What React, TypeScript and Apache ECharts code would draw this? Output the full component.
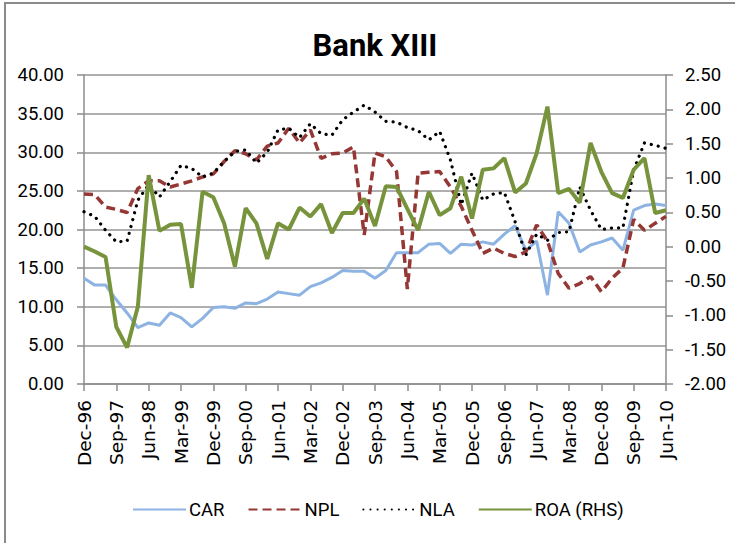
import React, { useEffect, useRef } from "react";
import * as echarts from "echarts";

const categories: string[] = (() => {
  const m = ["Mar", "Jun", "Sep", "Dec"];
  const out: string[] = ["Dec-96"];
  for (let y = 1997; y <= 2010; y++) {
    for (let q = 0; q < 4; q++) {
      if (y === 2010 && q > 1) break;
      out.push(`${m[q]}-${String(y % 100).padStart(2, "0")}`);
    }
  }
  return out;
})();

const CAR = [13.7, 12.8, 12.8, 10.9, 9.2, 7.3, 7.9, 7.6, 9.2, 8.6, 7.4, 8.5, 9.9, 10.0, 9.8, 10.5, 10.4, 11.0, 11.9, 11.7, 11.5, 12.6, 13.1, 13.8, 14.7, 14.6, 14.6, 13.7, 14.7, 17.0, 17.0, 17.0, 18.1, 18.2, 16.9, 18.1, 18.0, 18.4, 18.1, 19.4, 20.5, 17.3, 18.5, 11.5, 22.3, 20.8, 17.1, 18.0, 18.4, 18.9, 17.3, 22.5, 23.1, 23.3, 23.1];
const NPL = [24.6, 24.5, 22.9, 22.6, 22.2, 25.3, 26.3, 26.3, 25.5, 25.9, 26.3, 26.8, 27.2, 28.8, 30.2, 29.8, 29.0, 30.8, 31.2, 33.1, 31.2, 32.9, 29.2, 29.8, 29.9, 30.7, 19.3, 29.9, 29.4, 27.5, 12.3, 27.3, 27.4, 27.5, 25.5, 23.0, 19.9, 16.9, 17.6, 16.9, 16.5, 17.1, 20.6, 18.5, 14.3, 12.4, 13.0, 13.9, 11.95, 13.7, 15.0, 21.3, 19.9, 20.8, 21.7];
const NLA = [22.3, 21.7, 19.9, 18.4, 18.5, 23.8, 25.8, 24.2, 26.2, 28.3, 27.9, 26.8, 27.3, 28.8, 30.1, 30.3, 28.6, 30.0, 32.9, 33.1, 31.9, 33.7, 32.4, 32.2, 34.2, 35.2, 36.1, 35.2, 34.0, 33.9, 33.2, 32.8, 31.6, 32.7, 29.0, 23.2, 27.3, 23.8, 24.6, 24.8, 21.0, 16.7, 19.4, 18.6, 19.6, 19.7, 25.5, 22.5, 20.0, 20.2, 20.2, 27.7, 31.2, 30.9, 30.5];
const ROA = [0.0, -0.07, -0.15, -1.17, -1.47, -0.87, 1.04, 0.23, 0.32, 0.33, -0.6, 0.8, 0.72, 0.34, -0.29, 0.56, 0.34, -0.18, 0.34, 0.25, 0.57, 0.44, 0.62, 0.2, 0.49, 0.49, 0.7, 0.3, 0.88, 0.87, 0.55, 0.24, 0.8, 0.46, 0.56, 1.02, 0.41, 1.12, 1.14, 1.29, 0.79, 0.92, 1.36, 2.04, 0.78, 0.84, 0.64, 1.51, 1.09, 0.78, 0.71, 1.12, 1.29, 0.49, 0.53];

const NARROW = "Roboto, 'Noto Sans', sans-serif";
const WIDE = "'DejaVu Sans', 'Open Sans', sans-serif";

export default function App() {
  const ref = useRef<HTMLDivElement>(null);
  useEffect(() => {
    if (!ref.current) return;
    const chart = echarts.init(ref.current, undefined, { renderer: "svg" });
    const axisGray = "#8c8c8c";
    chart.setOption({
      animation: false,
      backgroundColor: "#fff",
      title: {
        text: "Bank XIII",
        left: 370,
        textAlign: "center",
        top: 25,
        textStyle: { fontFamily: NARROW, fontWeight: "bold", fontSize: 31, color: "#000" },
      },
      graphic: [
        {
          type: "rect",
          shape: { x: 5, y: 3, width: 740, height: 550 },
          style: { fill: "none", stroke: "#8a8a8a", lineWidth: 2 },
          silent: true,
        },
      ],
      legend: {
        left: 132,
        top: 500,
        padding: 0,
        itemWidth: 53,
        itemHeight: 14,
        itemGap: 23,
        itemStyle: { opacity: 0 },
        textStyle: { fontFamily: NARROW, fontSize: 18.5, color: "#000", padding: [0, 0, 0, -2] },
        data: ["CAR", "NPL", "NLA", "ROA (RHS)"],
      },
      grid: { left: 84, right: 69, top: 75, bottom: 159 },
      xAxis: {
        type: "category",
        data: categories,
        boundaryGap: false,
        axisLine: { lineStyle: { color: axisGray, width: 1.5 } },
        axisTick: { interval: 2, length: 7, lineStyle: { color: axisGray, width: 1.5 } },
        axisLabel: {
          interval: 2,
          rotate: 90,
          margin: 16,
          fontFamily: WIDE,
          fontSize: 18.5,
          color: "#000",
        },
      },
      yAxis: [
        {
          type: "value",
          min: 0,
          max: 40,
          interval: 5,
          axisLine: { show: true, lineStyle: { color: axisGray, width: 1.5 } },
          axisTick: { show: true, length: 7, lineStyle: { color: axisGray, width: 1.5 } },
          splitLine: { lineStyle: { color: "#959595", width: 1.5 } },
          axisLabel: {
            margin: 20,
            fontFamily: NARROW,
            fontSize: 18.5,
            color: "#000",
            formatter: (v: number) => v.toFixed(2),
          },
        },
        {
          type: "value",
          min: -2,
          max: 2.5,
          interval: 0.5,
          position: "right",
          axisLine: { show: true, lineStyle: { color: axisGray, width: 1.5 } },
          axisTick: { show: true, length: 7, lineStyle: { color: axisGray, width: 1.5 } },
          splitLine: { show: false },
          axisLabel: {
            margin: 19,
            fontFamily: NARROW,
            fontSize: 18.5,
            color: "#000",
            formatter: (v: number) => v.toFixed(2),
          },
        },
      ],
      series: [
        {
          name: "CAR",
          type: "line",
          data: CAR,
          yAxisIndex: 0,
          symbol: "none",
          lineStyle: { color: "#8db3e2", width: 3 },
          itemStyle: { color: "#8db3e2" },
          z: 2,
        },
        {
          name: "NPL",
          type: "line",
          data: NPL,
          yAxisIndex: 0,
          symbol: "none",
          lineStyle: { color: "#953735", width: 3.5, type: [9, 5] },
          itemStyle: { color: "#953735" },
          z: 3,
        },
        {
          name: "NLA",
          type: "line",
          data: NLA,
          yAxisIndex: 0,
          symbol: "none",
          lineStyle: { color: "#000", width: 3.2, type: [0.1, 7], cap: "round" },
          itemStyle: { color: "#000" },
          z: 4,
        },
        {
          name: "ROA (RHS)",
          type: "line",
          data: ROA,
          yAxisIndex: 1,
          symbol: "none",
          lineStyle: { color: "#77933c", width: 4 },
          itemStyle: { color: "#77933c" },
          z: 5,
        },
      ],
    });
    return () => chart.dispose();
  }, []);
  return (
    <div
      ref={ref}
      style={{ position: "fixed", left: 0, top: 0, width: 735, height: 543 }}
    />
  );
}
